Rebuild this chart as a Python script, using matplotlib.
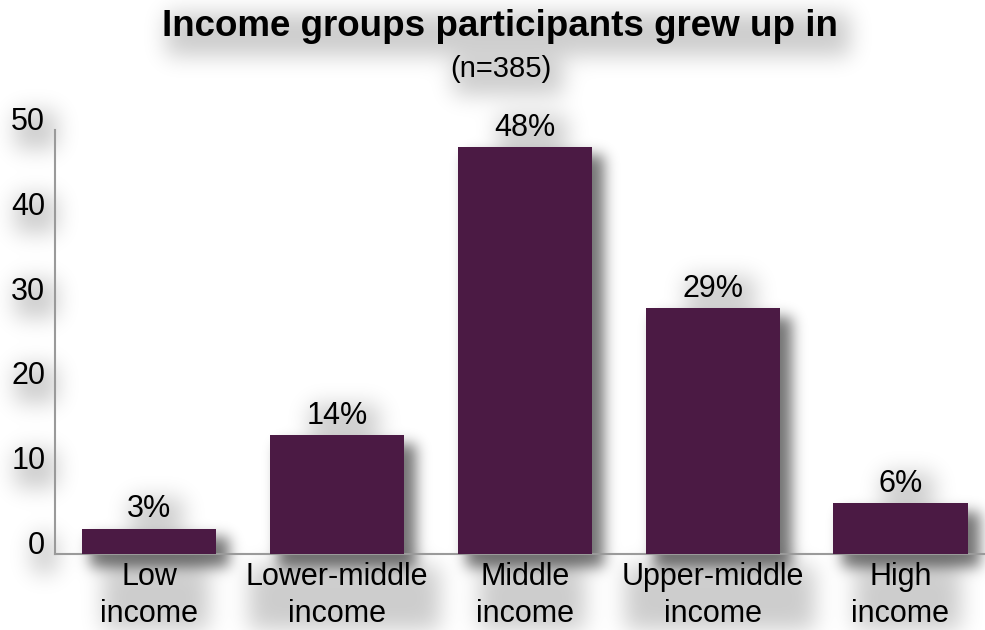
import numpy as np
import matplotlib
matplotlib.use('Agg')
import matplotlib.pyplot as plt

plt.rcParams['font.family'] = ['Liberation Sans', 'DejaVu Sans']

# data
categories = ['Low\nincome', 'Lower-middle\nincome', 'Middle\nincome',
              'Upper-middle\nincome', 'High\nincome']
values = [3, 14, 48, 29, 6]
labels = ['3%', '14%', '48%', '29%', '6%']
yticks = [0, 10, 20, 30, 40, 50]

bar_color = '#4b1a44'
W, H = 985, 630

fig = plt.figure(figsize=(W / 100, H / 100), dpi=100)
ax = fig.add_axes([55 / W, 1 - 554 / H, 1 - 55 / W, (554 - 130) / H])
ax.set_zorder(1)
ax.patch.set_alpha(0)

x = np.arange(len(categories))
bars = ax.bar(x, values, width=0.714, color=bar_color, zorder=3)

ax.set_xlim(-0.5, 4.45)
ax.set_ylim(0, 50)
ax.set_yticks(yticks)
ax.set_yticklabels([str(t) for t in yticks], fontsize=22, va='baseline')
ax.set_xticks(x)
ax.set_xticklabels(categories, fontsize=22, linespacing=1.28)
ax.tick_params(axis='y', length=0, pad=7)
ax.tick_params(axis='x', length=0, pad=6)

for s in ['top', 'right']:
    ax.spines[s].set_visible(False)
for s in ['left', 'bottom']:
    ax.spines[s].set_color('#9a9a9a')
    ax.spines[s].set_linewidth(1.5)

pct_texts = []
for xi, v, lab in zip(x, values, labels):
    t = ax.annotate(lab, (xi, v), xytext=(0, 8), textcoords='offset points',
                    ha='center', va='baseline', fontsize=22)
    pct_texts.append(t)

title = fig.text(0.508, 1 - 27 / H, 'Income groups participants grew up in',
                 ha='center', va='center', fontsize=26.5, fontweight='bold')
sub = fig.text(0.508, 1 - 69 / H, '(n=385)', ha='center', va='center', fontsize=21)

# blurred drop shadows behind bars and text
fig.canvas.draw()
renderer = fig.canvas.get_renderer()


def blur(a, s):
    r = int(3 * s)
    k = np.exp(-np.arange(-r, r + 1) ** 2 / (2.0 * s * s))
    k /= k.sum()
    a = np.apply_along_axis(lambda m: np.convolve(m, k, mode='same'), 0, a)
    a = np.apply_along_axis(lambda m: np.convolve(m, k, mode='same'), 1, a)
    return a


def fill(a, bb, dx, dy, pad, val):
    x0 = max(int(bb.x0 + dx - pad), 0)
    x1 = max(int(bb.x1 + dx + pad), 0)
    r0 = max(int(H - (bb.y1 + dy + pad)), 0)
    r1 = max(int(H - (bb.y0 + dy - pad)), 0)
    a[r0:r1, x0:x1] = np.maximum(a[r0:r1, x0:x1], val)


bar_mask = np.zeros((H, W))
for b in bars:
    fill(bar_mask, b.get_window_extent(renderer), 11, -11, 2, 1.0)
bar_mask = blur(bar_mask, 7) * 0.55

text_mask = np.zeros((H, W))
all_texts = [title, sub] + pct_texts + ax.get_xticklabels() + ax.get_yticklabels()
for t in all_texts:
    fill(text_mask, t.get_window_extent(renderer), 8, -8, 4, 1.0)
text_mask = blur(text_mask, 11) * 0.2

shade = np.clip(bar_mask + text_mask, 0, 1)
rgba = np.zeros((H, W, 4))
rgba[..., 3] = shade
fig.figimage(rgba, xo=0, yo=0, origin='upper', zorder=0)

fig.savefig('out.png', dpi=100, facecolor='white')
